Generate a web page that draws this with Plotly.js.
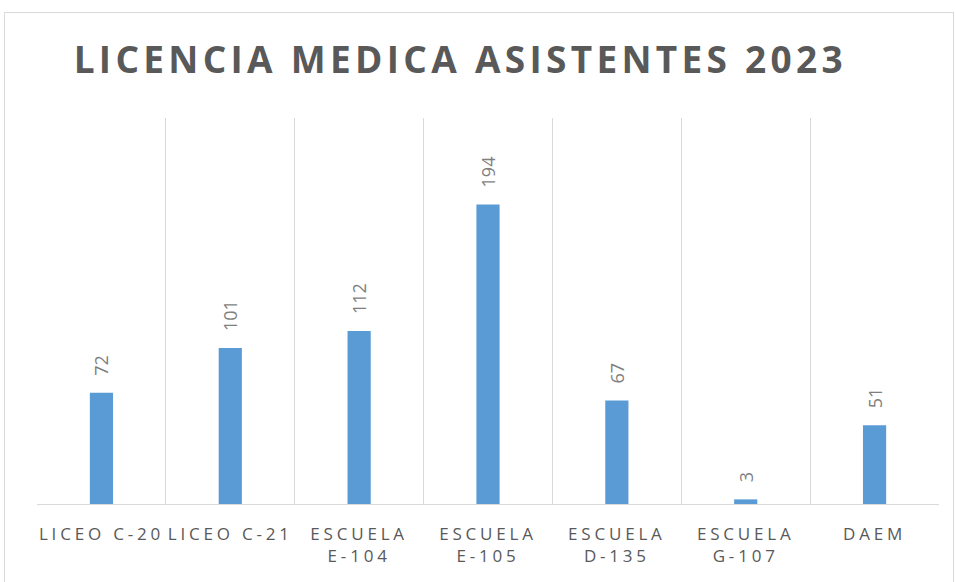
<!DOCTYPE html>
<html>
<head>
<meta charset="utf-8">
<script src="https://cdn.plot.ly/plotly-3.0.1.min.js"></script>
<style>
  body { margin: 0; background: #fff; }
  #grafico { position: absolute; left: 0; top: 0; width: 955px; height: 582px; }
  #marco { position: absolute; left: 4px; top: 12px; width: 948px; height: 600px;
           border: 1px solid #d9d9d9; pointer-events: none; }
  .gtitle { letter-spacing: 4.3px; }
  .xtick text { letter-spacing: 3.8px; }
</style>
</head>
<body>
<div id="grafico"></div>
<div id="marco"></div>
<script>
const escuelas = ['LICEO C-20', 'LICEO C-21', 'ESCUELA<br>E-104', 'ESCUELA<br>E-105', 'ESCUELA<br>D-135', 'ESCUELA<br>G-107', 'DAEM'];
const licencias = [72, 101, 112, 194, 67, 3, 51];

const pad = '\u00a0\u00a0\u00a0';

let barras = {
    type: 'bar',
    x: escuelas,
    y: licencias,
    width: 0.18,
    marker: { color: '#5b9bd5' },
    text: licencias.map(v => pad + v),
    textposition: 'outside',
    textangle: -90,
    constraintext: 'none',
    cliponaxis: false,
    textfont: { family: 'Open Sans', size: 18, color: '#7f7f7f' },
    hoverinfo: 'x+y'
};

let layout = {
    title: {
        text: '<b>LICENCIA MEDICA ASISTENTES 2023</b>',
        font: { family: 'Open Sans', size: 37, color: '#595959' },
        x: 0.482, xanchor: 'center',
        y: 0.897, yanchor: 'middle'
    },
    margin: { l: 37, r: 16, t: 118, b: 78 },
    paper_bgcolor: '#fff',
    plot_bgcolor: '#fff',
    showlegend: false,
    xaxis: {
        type: 'category',
        tickson: 'boundaries',
        showgrid: true,
        gridcolor: '#d9d9d9',
        gridwidth: 1.3,
        showline: true,
        linecolor: '#d9d9d9',
        linewidth: 1.3,
        ticks: '',
        ticklabelstandoff: 14,
        tickfont: { family: 'Open Sans', size: 17, color: '#595959' }
    },
    yaxis: {
        range: [0, 250],
        showgrid: false,
        zeroline: false,
        showticklabels: false,
        ticks: ''
    }
};

Plotly.newPlot('grafico', [barras], layout, { displayModeBar: false });
</script>
</body>
</html>
